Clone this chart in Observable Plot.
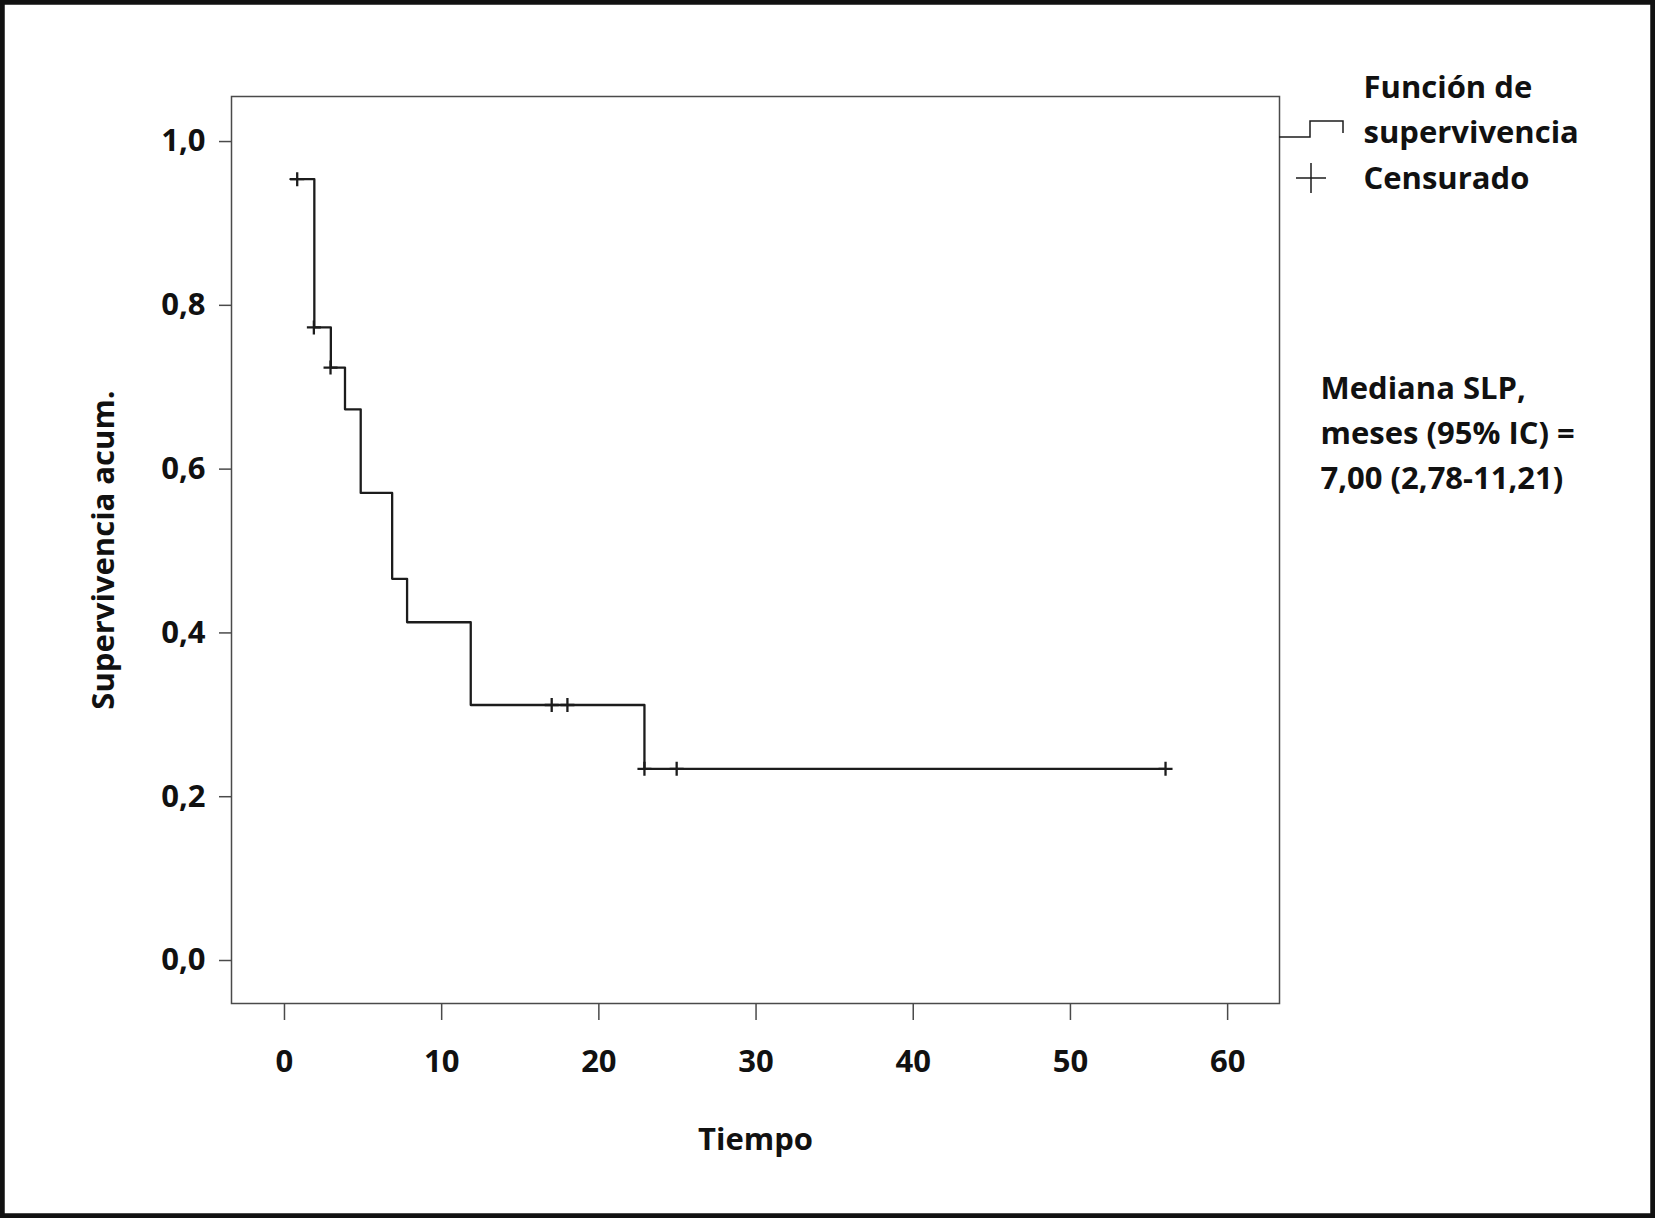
<!DOCTYPE html>
<html><head><meta charset="utf-8">
<script src="https://cdn.jsdelivr.net/npm/d3@7"></script>
<script src="https://cdn.jsdelivr.net/npm/@observablehq/plot@0.6"></script>
<style>
html,body{margin:0;padding:0;background:#fff;}
#chart svg{display:block;}
#chart svg text{font-weight:700;}
</style>
</head><body><div id="chart"></div>
<script>
// Kaplan–Meier step curve (time in months, cumulative survival)
const stepTimes = [0.38, 1.9, 2.95, 3.85, 4.85, 6.85, 7.8, 11.85, 22.9, 56.05];
const stepSurv  = [0.954, 0.773, 0.724, 0.673, 0.571, 0.466, 0.413, 0.312, 0.234, 0.234];
// Censored observations
const censorTimes = [0.81, 1.87, 2.93, 17.0, 18.0, 22.9, 24.95, 56.05];
const censorSurv  = [0.954, 0.773, 0.724, 0.312, 0.312, 0.234, 0.234, 0.234];
// Axes
const xTicks = [0, 10, 20, 30, 40, 50, 60];
const yTicks = [0, 0.2, 0.4, 0.6, 0.8, 1.0];
const xLabel = "Tiempo";
const yLabel = "Supervivencia acum.";
const legendLabels = ["Función de", "supervivencia", "Censurado"];
const noteLines = ["Mediana SLP,", "meses (95% IC) =", "7,00 (2,78-11,21)"];

const stepData = stepTimes.map((t, i) => ({t, s: stepSurv[i]}));
const censorData = censorTimes.map((t, i) => ({t, s: censorSurv[i]}));

const plusSymbol = {
  draw(ctx, size) {
    const r = Math.sqrt(size / Math.PI);
    ctx.moveTo(-r, 0); ctx.lineTo(r, 0);
    ctx.moveTo(0, -r); ctx.lineTo(0, r);
  }
};

const ink = "#1c1c1c";
const axisInk = "#4a4a4a";
const textInk = "#111";

function decorations(index, scales, values, dims) {
  const g = d3.create("svg:g").attr("fill", "none").attr("stroke", ink);
  const R = dims.width - dims.marginRight;
  const T = dims.marginTop;
  g.append("path")
    .attr("d", `M${R},${T + 41}H${R + 31}V${T + 25}H${R + 64}V${T + 37}`)
    .attr("stroke-width", 1.5);
  g.append("path")
    .attr("d", `M${R + 17},${T + 82}h30M${R + 32},${T + 67}v30`)
    .attr("stroke-width", 1.5);
  g.append("rect")
    .attr("x", 0).attr("y", 0)
    .attr("width", dims.width).attr("height", dims.height)
    .attr("stroke", "#111").attr("stroke-width", 9.5);
  return g.node();
}

const txt = (s, o) => Plot.text([s], {text: d => d, fill: textInk, fontSize: 31, fontWeight: "bold", lineAnchor: "bottom", ...o});

const chart = Plot.plot({
  width: 1655,
  height: 1218,
  marginLeft: 231,
  marginRight: 376,
  marginTop: 96,
  marginBottom: 215,
  style: {fontFamily: "'Open Sans', sans-serif", background: "#fff", color: textInk},
  x: {domain: [-3.37, 63.3], label: null},
  y: {domain: [-0.0525, 1.055], label: null},
  marks: [
    Plot.frame({stroke: axisInk, strokeWidth: 1.5}),
    Plot.axisX(xTicks, {tickSize: 17, tickPadding: 29, fontSize: 31, stroke: axisInk, strokeWidth: 1.5, fill: textInk, label: null}),
    Plot.axisY(yTicks, {tickSize: 12, tickPadding: 14, fontSize: 31, stroke: axisInk, strokeWidth: 1.5, fill: textInk, label: null,
      tickFormat: d => d.toFixed(1).replace(".", ",")}),
    Plot.line(stepData, {x: "t", y: "s", curve: "step-after", stroke: ink, strokeWidth: 2.3}),
    Plot.dot(censorData, {x: "t", y: "s", symbol: plusSymbol, r: 7, stroke: ink, strokeWidth: 2.3, fill: "none"}),
    txt(xLabel, {frameAnchor: "bottom", dy: 146, textAnchor: "middle"}),
    txt(yLabel, {frameAnchor: "left", dx: -118, rotate: -90, textAnchor: "middle"}),
    txt(legendLabels[0], {frameAnchor: "top-right", dx: 84, dy: 1, textAnchor: "start"}),
    txt(legendLabels[1], {frameAnchor: "top-right", dx: 84, dy: 46, textAnchor: "start"}),
    txt(legendLabels[2], {frameAnchor: "top-right", dx: 84, dy: 92, textAnchor: "start"}),
    txt(noteLines[0], {frameAnchor: "top-right", dx: 41, dy: 302, textAnchor: "start"}),
    txt(noteLines[1], {frameAnchor: "top-right", dx: 41, dy: 347, textAnchor: "start"}),
    txt(noteLines[2], {frameAnchor: "top-right", dx: 41, dy: 392, textAnchor: "start"}),
    decorations
  ]
});
document.getElementById("chart").append(chart);
</script>
</body></html>
